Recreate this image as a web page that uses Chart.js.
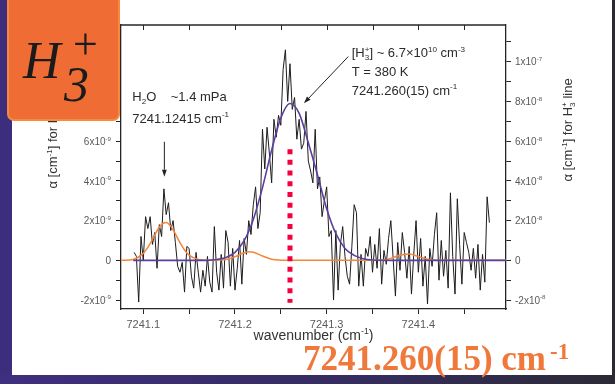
<!DOCTYPE html>
<html>
<head>
<meta charset="utf-8">
<script src="https://cdn.jsdelivr.net/npm/chart.js@4.4.1/dist/chart.umd.min.js"></script>
<style>
  html, body { margin: 0; padding: 0; width: 615px; height: 384px; overflow: hidden; background: #3d2e7d; }
  #slide { position: absolute; left: 12px; top: 0; width: 600px; height: 375px; background: #ffffff; }
  #bottomBand { position: absolute; left: 0; top: 375px; width: 615px; height: 9px; background: linear-gradient(90deg, #3e2f80 0%, #352c5e 60%, #2c2a36 100%); }
  #rightBand { position: absolute; left: 612px; top: 0; width: 3px; height: 384px; background: #2b2935; }
  #c { position: absolute; left: 0; top: 0; }
</style>
</head>
<body>
<div id="slide"></div>
<div id="bottomBand"></div>
<div id="rightBand"></div>
<canvas id="c" width="615" height="384"></canvas>
<script>
// Measured absorption spectrum (left axis, units of 1e-9 cm^-1)
const scanWavenumber = [
  7241.0900, 7241.0925, 7241.0950, 7241.0975, 7241.1000, 7241.1025, 7241.1050, 7241.1075, 7241.1100, 7241.1125,
  7241.1150, 7241.1175, 7241.1200, 7241.1225, 7241.1250, 7241.1275, 7241.1300, 7241.1325, 7241.1350, 7241.1375,
  7241.1400, 7241.1425, 7241.1450, 7241.1475, 7241.1500, 7241.1525, 7241.1550, 7241.1575, 7241.1600, 7241.1625,
  7241.1650, 7241.1675, 7241.1700, 7241.1725, 7241.1750, 7241.1775, 7241.1800, 7241.1825, 7241.1850, 7241.1875,
  7241.1900, 7241.1925, 7241.1950, 7241.1975, 7241.2000, 7241.2025, 7241.2050, 7241.2075, 7241.2100, 7241.2125,
  7241.2150, 7241.2175, 7241.2200, 7241.2225, 7241.2250, 7241.2275, 7241.2300, 7241.2325, 7241.2350, 7241.2375,
  7241.2400, 7241.2425, 7241.2450, 7241.2475, 7241.2500, 7241.2525, 7241.2550, 7241.2575, 7241.2600, 7241.2625,
  7241.2650, 7241.2675, 7241.2700, 7241.2725, 7241.2750, 7241.2775, 7241.2800, 7241.2825, 7241.2850, 7241.2875,
  7241.2900, 7241.2925, 7241.2950, 7241.2975, 7241.3000, 7241.3025, 7241.3050, 7241.3075, 7241.3100, 7241.3125,
  7241.3150, 7241.3175, 7241.3200, 7241.3225, 7241.3250, 7241.3275, 7241.3300, 7241.3325, 7241.3350, 7241.3375,
  7241.3400, 7241.3425, 7241.3450, 7241.3475, 7241.3500, 7241.3525, 7241.3550, 7241.3575, 7241.3600, 7241.3625,
  7241.3650, 7241.3675, 7241.3700, 7241.3725, 7241.3750, 7241.3775, 7241.3800, 7241.3825, 7241.3850, 7241.3875,
  7241.3900, 7241.3925, 7241.3950, 7241.3975, 7241.4000, 7241.4025, 7241.4050, 7241.4075, 7241.4100, 7241.4125,
  7241.4150, 7241.4175, 7241.4200, 7241.4225, 7241.4250, 7241.4275, 7241.4300, 7241.4325, 7241.4350, 7241.4375,
  7241.4400, 7241.4425, 7241.4450, 7241.4475, 7241.4500, 7241.4525, 7241.4550, 7241.4575, 7241.4600, 7241.4625,
  7241.4650, 7241.4675, 7241.4700, 7241.4725, 7241.4750, 7241.4775
];
const scanAlpha = [
   0.4,  0.2, -2.1,  1.2,  0.0,  2.2,  1.6,  2.2,  0.8,  1.4,
  -0.4,  1.8,  1.2,  3.6,  2.3,  2.9,  1.5,  2.0,  0.9, -0.3,
  -0.6, -0.1, -1.6,  0.7,  0.6, -0.8, -1.4,  0.4, -0.6, -1.6,
  -0.5, -1.3,  0.2, -1.1, -1.6,  1.7, -0.6, -1.5,  0.3, -1.4,
   1.5,  0.9, -1.3,  0.6, -1.5, -0.4,  1.0, -1.2,  1.1,  0.3,
   2.0,  1.3,  2.8,  3.7,  1.6,  2.4,  6.6,  4.6,  6.7,  5.4,
   3.9,  7.1,  6.2,  7.3,  6.8,  9.6, 10.6,  8.0,  9.9,  7.6,
   8.2,  6.1,  7.1,  5.6,  5.9,  7.5,  5.0,  4.5,  3.9,  6.6,
   3.6,  4.2,  2.2,  3.0,  3.7,  1.2,  1.5, -2.0,  1.5, -1.5,
   0.8,  1.7,  0.2, -0.8, -1.2,  0.7,  2.8,  2.4, -1.3,  0.3,
  -1.3,  0.6,  0.2,  1.2, -0.6,  0.8, -0.4,  1.6, -1.2,  0.5,
  -0.2,  1.1,  2.0,  0.1, -1.8,  0.9, -0.5,  1.4,  0.4, -0.9,
   0.7, -1.7,  0.3,  2.0, -0.6,  1.1, -1.3,  0.2, -2.2,  0.6,
  -0.3,  1.3,  2.4, -1.0,  1.0, -0.8,  0.5, -1.4,  3.4,  0.2,
  -1.7,  3.1,  0.8, -1.2,  1.4,  0.9,  0.4, -0.5,  0.6, -0.9,
   0.8, -1.5,  0.3, -1.1,  3.2,  1.9
];

// H2O line fit (left axis, units of 1e-9 cm^-1)
const waterFitWavenumber = [
  7241.076, 7241.090, 7241.100, 7241.105, 7241.110, 7241.115, 7241.120, 7241.125, 7241.130, 7241.135,
  7241.140, 7241.145, 7241.150, 7241.160, 7241.170, 7241.190, 7241.200, 7241.210, 7241.216, 7241.220,
  7241.230, 7241.240, 7241.250, 7241.260, 7241.350, 7241.360, 7241.370, 7241.380, 7241.390, 7241.400,
  7241.410, 7241.420, 7241.496
];
const waterFitAlpha = [
  0, 0.06, 0.35, 0.65, 1.06, 1.49, 1.81, 1.90, 1.71, 1.33,
  0.89, 0.52, 0.26, 0.04, 0, 0.04, 0.18, 0.38, 0.43, 0.41,
  0.22, 0.06, 0.01, 0, 0, 0.02, 0.10, 0.26, 0.32, 0.19,
  0.06, 0.01, 0
];

// H3+ line fit (right axis, units of 1e-8 cm^-1)
const h3FitWavenumber = [
  7241.089, 7241.170, 7241.180, 7241.190, 7241.200, 7241.210, 7241.220, 7241.230, 7241.240, 7241.250,
  7241.260, 7241.270, 7241.280, 7241.290, 7241.300, 7241.310, 7241.320, 7241.330, 7241.340, 7241.350,
  7241.370, 7241.496
];
const h3FitAlpha = [
  0, 0, 0.04, 0.14, 0.40, 0.99, 2.06, 3.66, 5.55, 7.17,
  7.90, 7.40, 5.92, 4.30, 2.60, 1.35, 0.60, 0.25, 0.08, 0.02,
  0, 0
];

// H3+ line centre marker (right axis, units of 1e-8 cm^-1)
const lineCentre = 7241.260;
const centreMarkerAlpha = [5.6, -2.14];

// Axis ranges and labels
const wavenumberRange = [7241.0757, 7241.4956];
const alphaRange = [-2.45, 11.85];
const leftExponent = -9;
const rightExponent = -8;

const FAM = '"Liberation Sans", Arial, sans-serif';
const SERIF = '"Liberation Serif", "Times New Roman", serif';
const FRAME = '#262626';
const TEXT = '#2b2b2b';
const TICKTXT = '#5a5a5a';

function pts(xs, ys) { return xs.map((x, i) => ({ x, y: ys[i] })); }

function drawRich(ctx, segs, x, y, size, align, color) {
  const sm = (size * 0.62).toFixed(1) + 'px ' + FAM;
  const main = size + 'px ' + FAM;
  const widths = segs.map(s => {
    if (s.ss) { ctx.font = sm; return Math.max(ctx.measureText(s.ss[0]).width, ctx.measureText(s.ss[1]).width); }
    ctx.font = (s.sup || s.sub) ? sm : main;
    return ctx.measureText(s.t).width;
  });
  const total = widths.reduce((a, b) => a + b, 0);
  let cx = align === 'right' ? x - total : align === 'center' ? x - total / 2 : x;
  ctx.fillStyle = color;
  ctx.textAlign = 'left';
  ctx.textBaseline = 'alphabetic';
  segs.forEach((s, i) => {
    if (s.ss) {
      ctx.font = sm;
      ctx.fillText(s.ss[0], cx, y + size * 0.22);
      ctx.fillText(s.ss[1], cx, y - size * 0.42);
    } else if (s.sup) {
      ctx.font = sm; ctx.fillText(s.t, cx, y - size * 0.42);
    } else if (s.sub) {
      ctx.font = sm; ctx.fillText(s.t, cx, y + size * 0.22);
    } else {
      ctx.font = main; ctx.fillText(s.t, cx, y);
    }
    cx += widths[i];
  });
}

function powerLabel(v, exp) {
  if (v === 0) return [{ t: '0' }];
  let m = v, e = exp;
  if (Math.abs(m) >= 10) { m = m / 10; e = e + 1; }
  return [{ t: m + 'x10' }, { t: String(e), sup: true }];
}

function arrow(ctx, x1, y1, x2, y2) {
  const ang = Math.atan2(y2 - y1, x2 - x1);
  const L = 7, W = 2.4;
  ctx.beginPath(); ctx.moveTo(x1, y1);
  ctx.lineTo(x2 - L * Math.cos(ang), y2 - L * Math.sin(ang)); ctx.stroke();
  ctx.beginPath();
  ctx.moveTo(x2, y2);
  ctx.lineTo(x2 - L * Math.cos(ang) + W * Math.sin(ang), y2 - L * Math.sin(ang) - W * Math.cos(ang));
  ctx.lineTo(x2 - L * Math.cos(ang) - W * Math.sin(ang), y2 - L * Math.sin(ang) + W * Math.cos(ang));
  ctx.closePath(); ctx.fill();
}

// Annotation text blocks anchored in data coordinates
const notes = [
  { x: 7241.088, y: 8.0, segs: [{ t: 'H' }, { t: '2', sub: true }, { t: 'O    ~1.4 mPa' }] },
  { x: 7241.088, y: 6.94, segs: [{ t: '7241.12415 cm' }, { t: '-1', sup: true }] },
  { x: 7241.3273, y: 10.24, segs: [{ t: '[H' }, { ss: ['3', '+'] }, { t: '] ~ 6.7\u00d710' }, { t: '10', sup: true }, { t: ' cm' }, { t: '-3', sup: true }] },
  { x: 7241.3273, y: 9.28, segs: [{ t: 'T = 380 K' }] },
  { x: 7241.3273, y: 8.33, segs: [{ t: '7241.260(15) cm' }, { t: '-1', sup: true }] }
];
const arrows = [
  { from: [7241.123, 5.97], to: [7241.123, 4.21] },
  { from: [7241.3236, 10.26], to: [7241.2752, 7.91] }
];

const decor = {
  id: 'decor',
  afterDraw(chart) {
    const { ctx, chartArea: a, scales } = chart;
    const sx = scales.x, sy = scales.y, sy2 = scales.y2;
    ctx.save();

    // top frame with inward ticks
    ctx.strokeStyle = FRAME;
    ctx.lineWidth = 1.3;
    ctx.beginPath(); ctx.moveTo(a.left, a.top); ctx.lineTo(a.right, a.top); ctx.stroke();
    ctx.lineWidth = 1;
    sx.ticks.forEach(t => {
      const px = Math.round(sx.getPixelForValue(t.value)) + 0.5;
      ctx.beginPath(); ctx.moveTo(px, a.top); ctx.lineTo(px, a.top + 5); ctx.stroke();
    });

    // y tick labels with exponents
    sy.ticks.forEach(t => {
      if (Math.round(t.value) % 2 !== 0) return;
      const py = sy.getPixelForValue(t.value);
      drawRich(ctx, powerLabel(Math.round(t.value), leftExponent), a.left - 10, py + 3.6, 10, 'right', TICKTXT);
    });
    sy2.ticks.forEach(t => {
      if (Math.round(t.value) % 2 !== 0) return;
      const py = sy2.getPixelForValue(t.value);
      drawRich(ctx, powerLabel(Math.round(t.value), rightExponent), a.right + 9, py + 3.6, 10, 'left', TICKTXT);
    });

    // axis titles
    drawRich(ctx, [{ t: 'wavenumber (cm' }, { t: '-1', sup: true }, { t: ')' }], (a.left + a.right) / 2, 340, 14, 'center', '#333');
    ctx.save(); ctx.translate(57, 132); ctx.rotate(-Math.PI / 2);
    drawRich(ctx, [{ t: '\u03b1 [cm' }, { t: '-1', sup: true }, { t: '] for H' }, { t: '2', sub: true }, { t: 'O line' }], 0, 0, 13, 'center', '#333');
    ctx.restore();
    ctx.save(); ctx.translate(572, 130); ctx.rotate(-Math.PI / 2);
    drawRich(ctx, [{ t: '\u03b1 [cm' }, { t: '-1', sup: true }, { t: '] for H' }, { ss: ['3', '+'] }, { t: ' line' }], 0, 0, 13, 'center', '#333');
    ctx.restore();

    // annotations
    notes.forEach(n => drawRich(ctx, n.segs, sx.getPixelForValue(n.x), sy.getPixelForValue(n.y), 13, 'left', TEXT));
    ctx.strokeStyle = '#222'; ctx.fillStyle = '#222'; ctx.lineWidth = 1;
    arrows.forEach(r => arrow(ctx,
      sx.getPixelForValue(r.from[0]), sy.getPixelForValue(r.from[1]),
      sx.getPixelForValue(r.to[0]), sy.getPixelForValue(r.to[1])));

    // species badge
    ctx.beginPath();
    ctx.roundRect(8, -6, 111, 126, 6);
    ctx.fillStyle = '#ef6d35'; ctx.fill();
    ctx.lineWidth = 2; ctx.strokeStyle = '#f6883f'; ctx.stroke();
    ctx.fillStyle = '#1b1b1b';
    ctx.textAlign = 'left'; ctx.textBaseline = 'alphabetic';
    ctx.font = 'italic 52px ' + SERIF;
    ctx.fillText('H', 23, 78);
    ctx.font = 'italic 50px ' + SERIF;
    ctx.fillText('3', 64, 101);
    ctx.font = '44px ' + SERIF;
    ctx.fillText('+', 73, 59);

    // line position headline
    ctx.fillStyle = '#f0783a';
    ctx.font = 'bold 35px ' + SERIF;
    ctx.fillText('7241.260(15) cm', 303, 370);
    const w = ctx.measureText('7241.260(15) cm').width;
    ctx.font = 'bold 23px ' + SERIF;
    ctx.fillText('-1', 303 + w + 4, 359);

    ctx.restore();
  }
};

const yCommon = {
  type: 'linear',
  min: alphaRange[0], max: alphaRange[1],
  grid: { drawOnChartArea: false, drawTicks: true, tickLength: 5, tickColor: FRAME, tickWidth: 1 },
  border: { display: true, color: FRAME, width: 1.3 },
  ticks: { stepSize: 1, includeBounds: false, autoSkip: false, maxTicksLimit: 100, callback: () => '' }
};

new Chart(document.getElementById('c'), {
  type: 'line',
  data: {
    datasets: [
      {
        label: 'line centre', yAxisID: 'y2',
        data: pts([lineCentre, lineCentre], centreMarkerAlpha),
        borderColor: '#f5003a', borderWidth: 5, borderDash: [5, 5.7], borderCapStyle: 'butt',
        pointRadius: 0, tension: 0
      },
      {
        label: 'H3+ fit', yAxisID: 'y2',
        data: pts(h3FitWavenumber, h3FitAlpha),
        borderColor: '#5a3f9f', borderWidth: 1.6, pointRadius: 0, cubicInterpolationMode: 'monotone'
      },
      {
        label: 'H2O fit', yAxisID: 'y',
        data: pts(waterFitWavenumber, waterFitAlpha),
        borderColor: '#f5853a', borderWidth: 1.5, pointRadius: 0, cubicInterpolationMode: 'monotone'
      },
      {
        label: 'spectrum', yAxisID: 'y',
        data: pts(scanWavenumber, scanAlpha),
        borderColor: '#1c1c1c', borderWidth: 1, pointRadius: 0, tension: 0
      }
    ]
  },
  options: {
    responsive: false,
    animation: false,
    devicePixelRatio: 1,
    layout: { padding: { top: 25, left: 0, right: 0, bottom: 0 } },
    plugins: { legend: { display: false }, tooltip: { enabled: false }, title: { display: false } },
    scales: {
      x: {
        type: 'linear',
        min: wavenumberRange[0], max: wavenumberRange[1],
        grid: { drawOnChartArea: false, drawTicks: true, tickLength: 5, tickColor: FRAME, tickWidth: 1 },
        border: { display: true, color: FRAME, width: 1.3 },
        ticks: {
          stepSize: 0.05, includeBounds: false, autoSkip: false, maxRotation: 0,
          color: TICKTXT, padding: 4, font: { family: FAM, size: 11 },
          callback: v => (Math.abs(v * 10 - Math.round(v * 10)) < 1e-6 ? v.toFixed(1) : '')
        },
        afterFit: s => { s.height = 75; }
      },
      y: Object.assign({}, yCommon, { position: 'left', afterFit: s => { s.width = 121; } }),
      y2: Object.assign({}, yCommon, { position: 'right', afterFit: s => { s.width = 109; } })
    }
  },
  plugins: [decor]
});
</script>
</body>
</html>
